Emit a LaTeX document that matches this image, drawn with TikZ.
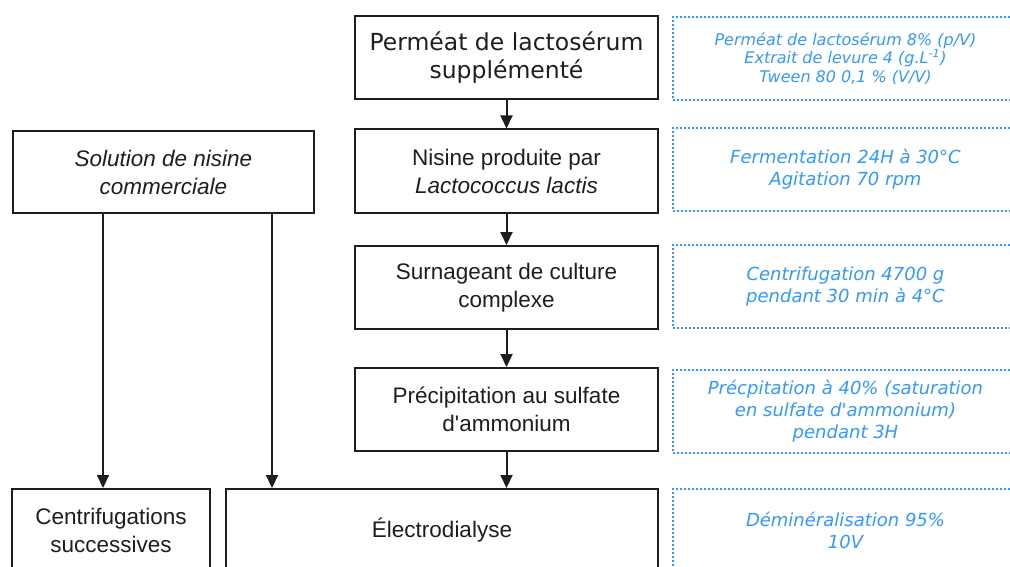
\documentclass[tikz,border=0pt]{standalone}
\usepackage{fontspec}
\setmainfont{Liberation Sans}
\newfontfamily\dvs{DejaVu Sans}
\newfontfamily\dvo{DejaVu Sans Oblique}
\usetikzlibrary{arrows.meta}
\definecolor{noteblue}{RGB}{51,153,255}
\definecolor{ink}{RGB}{30,30,30}
\begin{document}
\begin{tikzpicture}[x=1pt,y=-1pt,
  stepbox/.style={draw=ink, line width=2pt, minimum width=303pt, minimum height=83pt,
    align=center, text=ink, font=\fontsize{22.5}{28}\selectfont, inner sep=0pt},
  note/.style={draw=noteblue, line width=2pt, dash pattern=on 2pt off 2pt,
    minimum width=345pt, minimum height=83pt, align=center, text=noteblue,
    font=\dvo\fontsize{18}{22}\selectfont, inner sep=0pt},
  arr/.style={draw=ink, line width=2pt, -{Triangle[length=13pt,width=12pt]}}]
\useasboundingbox (0,0) rectangle (1010,567);
\clip (0,0) rectangle (1010,567);
\fill[white] (0,0) rectangle (1010,567);

% main column
\node[stepbox, font=\dvs\fontsize{23.5}{27}\selectfont] (b1) at (506.5,58) {Perméat de lactosérum\\[1pt]supplémenté};
\node[stepbox] (b2) at (506.5,171) {Nisine produite par\\\textit{Lactococcus lactis}};
\node[stepbox] (b3) at (506.5,287.5) {Surnageant de culture\\complexe};
\node[stepbox] (b4) at (506.5,409.5) {Précipitation au sulfate\\d\textquotesingle ammonium};
\node[stepbox, minimum width=432pt] (ele) at (442,530.5) {Électrodialyse};

% left column
\node[stepbox, minimum width=301pt, minimum height=82pt, font=\itshape\fontsize{22.5}{28}\selectfont] (sol) at (163.5,172) {Solution de nisine\\commerciale};
\node[stepbox, minimum width=198pt] (cen) at (111,530.5) {Centrifugations\\successives};

% notes
\node[note, font=\dvo\fontsize{16}{18.5}\selectfont] (n1) at (845.5,58.5) {Perméat de lactosérum 8\% (p/V)\\Extrait de levure 4 (g.L\textsuperscript{-1})\\Tween 80 0,1 \% (V/V)};
\node[note] (n2) at (845.5,169.5) {Fermentation 24H à 30°C\\Agitation 70 rpm};
\node[note] (n3) at (845.5,286.5) {Centrifugation 4700 g\\pendant 30 min à 4°C};
\node[note] (n4) at (845.5,411.5) {Précpitation à 40\% (saturation\\en sulfate d'ammonium)\\pendant 3H};
\node[note] (n5) at (845.5,530.5) {Déminéralisation 95\%\\10V};

% arrows
\draw[arr] (b1) -- (b2);
\draw[arr] (b2) -- (b3);
\draw[arr] (b3) -- (b4);
\draw[arr] (b4.south) -- (b4.south |- ele.north);
\coordinate (s1) at (103,213);
\coordinate (s2) at (272,213);
\draw[arr] (s1) -- (s1 |- cen.north);
\draw[arr] (s2) -- (s2 |- ele.north);
\end{tikzpicture}
\end{document}
